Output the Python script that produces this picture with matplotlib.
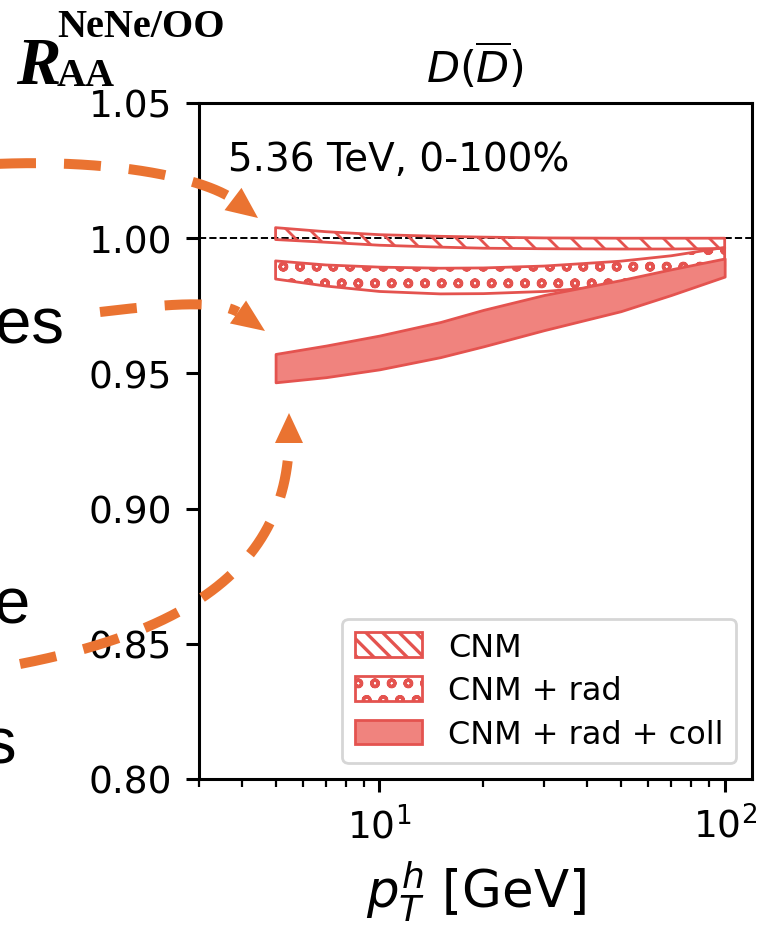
import numpy as np
import matplotlib
matplotlib.use("Agg")
import matplotlib.pyplot as plt
from matplotlib.patches import Polygon, Patch
from matplotlib.ticker import FormatStrFormatter

# band data
pt = [5, 7, 10, 15, 20, 30, 50, 70, 100]
cnm_hi = [1.0039, 1.0024, 1.0013, 1.0007, 1.0004, 1.0001, 1.0000, 1.0000, 1.0000]
cnm_lo = [0.9995, 0.9985, 0.9974, 0.9967, 0.9963, 0.9961, 0.9960, 0.9960, 0.9962]
rad_hi = [0.9916, 0.9901, 0.9893, 0.9889, 0.9890, 0.9897, 0.9915, 0.9935, 0.9966]
rad_lo = [0.9849, 0.9823, 0.9803, 0.9794, 0.9795, 0.9803, 0.9825, 0.9850, 0.9895]
coll_hi = [0.9572, 0.9603, 0.9640, 0.9690, 0.9735, 0.9790, 0.9845, 0.9885, 0.9925]
coll_lo = [0.9467, 0.9486, 0.9515, 0.9560, 0.9600, 0.9660, 0.9730, 0.9790, 0.9858]
labels = ["CNM", "CNM + rad", "CNM + rad + coll"]
yticks = [0.80, 0.85, 0.90, 0.95, 1.00, 1.05]

RED = "#e4534f"
FILL = "#f0837e"
ORANGE = "#ea7331"
W, H = 759, 929

plt.rcParams.update({
    "font.size": 27,
    "axes.linewidth": 2.2,
    "xtick.major.size": 9.5, "xtick.major.width": 2.2,
    "xtick.minor.size": 5.4, "xtick.minor.width": 1.6,
    "ytick.major.size": 9.5, "ytick.major.width": 2.2,
    "xtick.major.pad": 10, "ytick.major.pad": 10,
    "xtick.minor.pad": 10,
    "hatch.linewidth": 2.4,
})

fig = plt.figure(figsize=(W / 100, H / 100), dpi=100)
ax = fig.add_axes([199 / W, 1 - 780 / H, 553 / W, 676 / H])

cnm = ax.fill_between(pt, cnm_lo, cnm_hi, facecolor="none", edgecolor=RED, lw=2)
rad = ax.fill_between(pt, rad_lo, rad_hi, facecolor="none", edgecolor=RED,
                      hatch="o", lw=2, label=labels[1])
coll = ax.fill_between(pt, coll_lo, coll_hi, facecolor=FILL, edgecolor=RED,
                       lw=2, label=labels[2])
ax.axhline(1.0, color="k", ls="--", lw=1.4, zorder=0.5)

ax.set_xscale("log")
ax.set_xlim(3, 120)
ax.set_ylim(0.80, 1.05)
ax.set_yticks(yticks)
ax.yaxis.set_major_formatter(FormatStrFormatter("%.2f"))
ax.tick_params(labelsize=27)

ax.text(0.052, 0.917, "5.36 TeV, 0-100%", transform=ax.transAxes,
        fontsize=28, va="center", ha="left")
ax.set_title(r"$D(\overline{D})$", fontsize=31, pad=15)
ax.set_xlabel(r"$p_T^h$ [GeV]", fontsize=37, labelpad=9)

cnm_proxy = Patch(facecolor="none", edgecolor=RED, hatch="\\\\", lw=2)
leg = ax.legend([cnm_proxy, rad, coll], labels, loc="lower right", fontsize=23,
                labelspacing=0.4, handlelength=2.1, handleheight=0.8,
                borderaxespad=0.5)
leg.get_frame().set_linewidth(2)

# y label R_AA^{NeNe/OO} at the top left
serif = "Liberation Serif"
fig.text(16 / W, 1 - 84 / H, "R", fontsize=48, family=serif, weight="bold",
         style="italic", ha="left", va="baseline")
fig.text(57 / W, 1 - 37 / H, "NeNe/OO", fontsize=29, family=serif,
         weight="bold", ha="left", va="baseline")
fig.text(57 / W, 1 - 86 / H, "AA", fontsize=29, family=serif,
         weight="bold", ha="left", va="baseline")

# slide overlay: clipped words and orange dashed arrows, in pixel coords
ov = fig.add_axes([0, 0, 1, 1])
ov.set_xlim(0, W)
ov.set_ylim(H, 0)
ov.axis("off")

# diagonal hatch of the CNM band, clipped to the band outline
band_path = cnm.get_paths()[0]
for x0 in np.arange(200, 760, 23):
    ln, = ov.plot([x0, x0 + 60], [190, 250], color=RED, lw=2.0)
    ln.set_clip_path(band_path, ax.transData)

for word, xr, yb in [("tes", 64, 342), ("e", 29, 623), ("s", 16, 763)]:
    ov.text(xr, yb, word, fontsize=47, family="Liberation Sans",
            ha="right", va="baseline")


def dashed_arrow(ctrl, tip, head_w=28):
    P = np.array(ctrl, float)
    t = np.linspace(0, 1, 300)[:, None]
    c = ((1 - t) ** 3 * P[0] + 3 * (1 - t) ** 2 * t * P[1]
         + 3 * (1 - t) * t ** 2 * P[2] + t ** 3 * P[3])
    ov.plot(c[:, 0], c[:, 1], color=ORANGE, lw=7.2, ls=(0, (3.7, 2.8)),
            dash_capstyle="butt")
    tip = np.array(tip, float)
    d = tip - P[3]
    d /= np.hypot(*d)
    n = np.array([-d[1], d[0]])
    base = P[3]
    ov.add_patch(Polygon([tip, base + n * head_w / 2, base - n * head_w / 2],
                         closed=True, color=ORANGE, lw=0))


dashed_arrow([(-5, 165), (110, 160), (200, 178), (233, 200)], (258, 219))
dashed_arrow([(100, 313), (160, 306), (215, 300), (238, 313)], (265, 332))
dashed_arrow([(20, 665), (200, 630), (285, 560), (289, 444)], (289, 414))

fig.savefig("out.png", dpi=100)
